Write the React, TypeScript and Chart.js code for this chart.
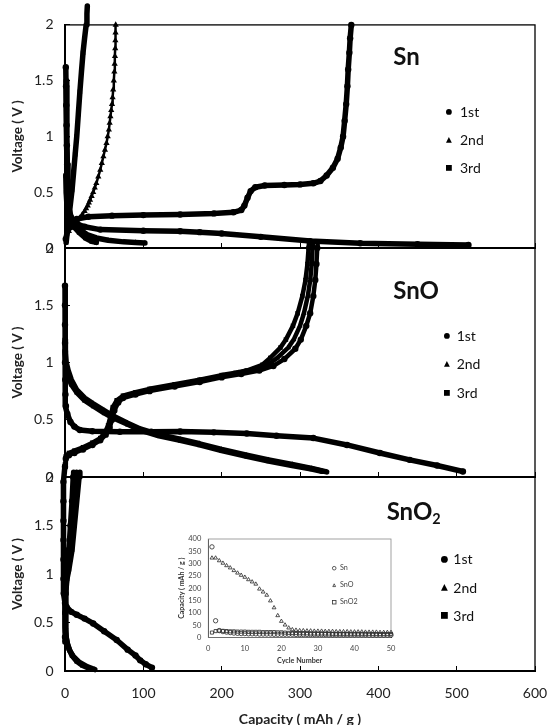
import React, { useEffect, useRef } from 'react';
import { Chart, registerables } from 'chart.js';

Chart.register(...registerables);
Chart.defaults.font.family = 'Lato, "Noto Sans", sans-serif';

type Pt = [number, number];

// ---------- axis ticks ----------
const capacityTicks = [0, 100, 200, 300, 400, 500, 600];
const voltageTicks = [0, 0.5, 1, 1.5, 2];
const cycleTicks = [0, 10, 20, 30, 40, 50];
const insetCapTicks = [0, 50, 100, 150, 200, 250, 300, 350, 400];

const cycleLabels = ['1st', '2nd', '3rd'];
const insetLabels = ['Sn', 'SnO', 'SnO2'];

// ---------- Sn panel (capacity mAh/g, voltage V) ----------
const snDis1: Pt[] = [[1, 1.62], [1.3, 1.45], [1.6, 1.28], [2, 1.1], [2.4, 0.92], [2.8, 0.75], [3.2, 0.6], [3.8, 0.47], [5, 0.36], [8, 0.27], [14, 0.22], [25, 0.19], [45, 0.165], [100, 0.155], [147, 0.15], [172, 0.142], [200, 0.13], [250, 0.1], [313, 0.062], [377, 0.042], [450, 0.033], [515, 0.028]];
const snCha1: Pt[] = [[1, 0.08], [3, 0.15], [8, 0.22], [15, 0.26], [30, 0.28], [60, 0.29], [100, 0.295], [147, 0.3], [190, 0.31], [215, 0.32], [225, 0.34], [229, 0.38], [233, 0.45], [237, 0.51], [243, 0.545], [255, 0.56], [280, 0.565], [300, 0.57], [317, 0.58], [326, 0.6], [334, 0.65], [342, 0.72], [348, 0.8], [352, 0.9], [355, 1.0], [357, 1.14], [359, 1.29], [360.5, 1.45], [361.5, 1.6], [363, 1.75], [364, 1.88], [365.5, 2.0]];
const snDis2: Pt[] = [[1.5, 1.5], [2, 1.25], [2.5, 1.0], [3, 0.75], [3.5, 0.55], [4.5, 0.4], [6, 0.31], [10, 0.24], [18, 0.17], [28, 0.12], [40, 0.09], [55, 0.07], [75, 0.055], [90, 0.05], [102, 0.045]];
const snCha2: Pt[] = [[1, 0.1], [5, 0.15], [9, 0.18], [12, 0.2], [16, 0.24], [19, 0.27], [22, 0.3], [25, 0.33], [27, 0.355], [29, 0.38], [30.5, 0.405], [32, 0.43], [34, 0.465], [36, 0.5], [38, 0.54], [40, 0.58], [42.5, 0.64], [45, 0.7], [47, 0.76], [49, 0.82], [51, 0.88], [53, 0.94], [54.5, 1.0], [56, 1.06], [57, 1.12], [58, 1.18], [59, 1.235], [60, 1.29], [60.8, 1.35], [61.5, 1.42], [62.3, 1.5], [63, 1.58], [63.4, 1.65], [63.8, 1.72], [64.1, 1.79], [64.3, 1.86], [64.5, 1.93], [64.7, 2.0]];
const snDis3: Pt[] = [[1, 0.65], [1.5, 0.5], [2.5, 0.38], [5, 0.28], [10, 0.2], [18, 0.14], [26, 0.09], [34, 0.06], [40, 0.05]];
const snCha3: Pt[] = [[1.5, 0.05], [3, 0.15], [5, 0.28], [7, 0.4], [9, 0.52], [11, 0.68], [13, 0.84], [15, 1.0], [17, 1.2], [19, 1.4], [21, 1.58], [23, 1.75], [25, 1.88], [27, 2.0], [28, 2.1], [28.5, 2.17]];

// ---------- SnO panel ----------
const snoDis1: Pt[] = [[0, 1.67], [0, 1.5], [0, 1.33], [0, 1.17], [0, 1.0], [0.3, 0.85], [0.6, 0.72], [1.2, 0.62], [3, 0.55], [7, 0.48], [12, 0.44], [19, 0.41], [35, 0.4], [70, 0.395], [110, 0.395], [147, 0.398], [190, 0.39], [232, 0.38], [270, 0.36], [317, 0.34], [360, 0.28], [402, 0.21], [440, 0.15], [475, 0.1], [508, 0.048]];
const snoCha1: Pt[] = [[0, 0.09], [1, 0.16], [5, 0.19], [12, 0.21], [23, 0.24], [35, 0.28], [45, 0.32], [52, 0.37], [57, 0.43], [60, 0.5], [63, 0.58], [68, 0.65], [74, 0.69], [90, 0.72], [108, 0.75], [140, 0.79], [172, 0.83], [200, 0.87], [225, 0.9], [248, 0.93], [266, 0.97], [280, 1.03], [294, 1.12], [301, 1.2], [308, 1.32], [313, 1.43], [317, 1.58], [319.5, 1.72], [321, 1.86], [322, 2.0], [322.5, 2.05]];
const snoDis2: Pt[] = [[0, 1.2], [0.5, 1.08], [1.5, 1.0], [4, 0.93], [8, 0.85], [15, 0.76], [25, 0.69], [36, 0.64], [50, 0.58], [62, 0.53], [80, 0.47], [96, 0.42], [120, 0.37], [147, 0.33], [172, 0.29], [200, 0.24], [232, 0.19], [260, 0.15], [290, 0.11], [315, 0.075], [334, 0.045]];
const snoCha2: Pt[] = [[0, 0.1], [1, 0.17], [5, 0.2], [12, 0.22], [23, 0.25], [35, 0.29], [45, 0.33], [52, 0.38], [56, 0.44], [59, 0.52], [62, 0.6], [67, 0.66], [74, 0.7], [90, 0.73], [108, 0.76], [140, 0.8], [172, 0.845], [200, 0.88], [222, 0.91], [240, 0.94], [259, 0.98], [271, 1.04], [285, 1.13], [292, 1.2], [300, 1.32], [305, 1.43], [310, 1.58], [313, 1.72], [315, 1.86], [316, 2.0], [316.5, 2.05]];
const snoDis3: Pt[] = [[0, 1.1], [0.5, 1.0], [1.5, 0.95], [4, 0.89], [8, 0.81], [15, 0.74], [25, 0.67], [36, 0.62], [50, 0.56], [62, 0.515], [80, 0.46], [96, 0.41], [120, 0.36], [147, 0.32], [172, 0.28], [200, 0.23], [232, 0.18], [260, 0.14], [290, 0.1], [315, 0.07], [328, 0.05]];
const snoCha3: Pt[] = [[0, 0.11], [1, 0.18], [5, 0.21], [12, 0.23], [23, 0.26], [35, 0.3], [45, 0.34], [51, 0.39], [55, 0.45], [58, 0.53], [61, 0.61], [66, 0.67], [74, 0.71], [90, 0.74], [108, 0.77], [140, 0.81], [172, 0.85], [200, 0.89], [218, 0.91], [232, 0.93], [252, 0.98], [262, 1.04], [275, 1.13], [282, 1.2], [291, 1.32], [297, 1.43], [303, 1.58], [307, 1.72], [309.5, 1.86], [311, 2.0], [311.5, 2.05]];

// ---------- SnO2 panel ----------
const sno2Dis1: Pt[] = [[0, 2.12], [-2, 1.95], [-2, 1.75], [-2, 1.55], [-2, 1.35], [-2, 1.15], [-2, 0.95], [-1.5, 0.8], [0, 0.7], [2, 0.66], [8, 0.61], [15, 0.58], [25, 0.54], [36, 0.49], [50, 0.41], [66, 0.32], [80, 0.22], [90, 0.16], [96, 0.11], [103, 0.07], [111, 0.035]];
const sno2Cha1: Pt[] = [[0, 0.35], [0.3, 0.6], [0.8, 0.8], [1.5, 0.95], [3, 1.05], [5, 1.25], [7, 1.5], [9, 1.75], [10.5, 2.0], [11, 2.05]];
const sno2Dis2: Pt[] = [[0, 1.12], [0, 0.95], [0, 0.78], [0.3, 0.6], [0.8, 0.45], [1.5, 0.35], [3, 0.28], [6, 0.21], [10.6, 0.15], [18, 0.09], [28, 0.045], [38, 0.015]];
const sno2Cha2: Pt[] = [[0, 0.32], [0.4, 0.6], [1, 0.8], [2, 0.95], [4, 1.05], [7, 1.25], [9.5, 1.5], [12, 1.75], [14, 2.0], [14.5, 2.05]];
const sno2Dis3: Pt[] = [[0, 1.05], [0, 0.88], [0, 0.7], [0.4, 0.52], [1, 0.4], [2.5, 0.3], [5, 0.23], [9, 0.16], [15, 0.1], [22, 0.06], [30, 0.03]];
const sno2Cha3: Pt[] = [[0, 0.3], [0.5, 0.6], [1.2, 0.8], [2.5, 0.95], [5, 1.05], [9, 1.25], [12, 1.5], [15, 1.75], [18, 2.0], [19, 2.05]];

// ---------- inset: capacity vs cycle number ----------
const cycles = [1, 2, 3, 4, 5, 6, 7, 8, 9, 10, 11, 12, 13, 14, 15, 16, 17, 18, 19, 20, 21, 22, 23, 24, 25, 26, 27, 28, 29, 30, 31, 32, 33, 34, 35, 36, 37, 38, 39, 40, 41, 42, 43, 44, 45, 46, 47, 48, 49, 50];
const capSn = [368, 68, 28, 24, 22, 20, 18, 17, 16, 16, 15, 15, 15, 14, 14, 14, 14, 13, 13, 13, 13, 13, 13, 12, 12, 12, 12, 12, 12, 12, 12, 12, 11, 11, 11, 11, 11, 11, 11, 11, 11, 11, 11, 10, 10, 10, 10, 10, 10, 10];
const capSnO = [323, 323, 312, 302, 292, 283, 272, 262, 253, 245, 235, 226, 217, 197, 185, 172, 149, 121, 89, 66, 51, 39, 32, 30, 28, 28, 27, 27, 26, 26, 26, 25, 25, 25, 24, 24, 24, 24, 23, 23, 23, 23, 22, 22, 22, 22, 21, 21, 21, 21];
const capSnO2 = [20, 26, 28, 27, 26, 25, 25, 24, 24, 24, 23, 23, 23, 23, 22, 22, 22, 22, 21, 21, 20, 19, 18, 18, 17, 17, 17, 16, 16, 16, 16, 16, 16, 15, 15, 15, 15, 15, 15, 15, 15, 15, 15, 15, 14, 14, 14, 14, 14, 14];

// ---------- layout ----------
const W = 550;
const H = 725;
const PLOT_R = 535;

type Marker = 'circle' | 'triangle' | 'rect';
interface Series { data: Pt[]; marker: Marker; line?: number; radius?: number }

const snSeries: Series[] = [
  { data: snDis1, marker: 'circle' }, { data: snCha1, marker: 'circle' },
  { data: snDis2, marker: 'triangle' }, { data: snCha2, marker: 'triangle', line: 2.5, radius: 3.6 },
  { data: snDis3, marker: 'rect' }, { data: snCha3, marker: 'rect' },
];
const snoSeries: Series[] = [
  { data: snoDis1, marker: 'circle' }, { data: snoCha1, marker: 'circle', line: 4.5 },
  { data: snoDis2, marker: 'triangle' }, { data: snoCha2, marker: 'triangle', line: 4.5 },
  { data: snoDis3, marker: 'rect' }, { data: snoCha3, marker: 'rect', line: 4.5 },
];
const sno2Series: Series[] = [
  { data: sno2Dis1, marker: 'circle' }, { data: sno2Cha1, marker: 'circle' },
  { data: sno2Dis2, marker: 'triangle' }, { data: sno2Cha2, marker: 'triangle' },
  { data: sno2Dis3, marker: 'rect' }, { data: sno2Cha3, marker: 'rect' },
];

function makeFrame(color: string, width: number) {
  return {
    id: 'frame',
    beforeDatasetsDraw(chart: any) {
      const { ctx, chartArea: a } = chart;
      ctx.save();
      ctx.strokeStyle = color;
      ctx.lineWidth = width;
      ctx.strokeRect(a.left, a.top, a.right - a.left, a.bottom - a.top);
      ctx.restore();
    },
  };
}

function toDataset(s: Series) {
  return {
    data: s.data.map(([x, y]) => ({ x, y })),
    showLine: true,
    borderColor: '#000',
    backgroundColor: '#000',
    borderWidth: s.line ?? 5.5,
    borderJoinStyle: 'round',
    borderCapStyle: 'round',
    pointStyle: s.marker,
    pointRadius: s.radius ?? 3.2,
    pointBorderWidth: 0,
    pointBackgroundColor: '#000',
    clip: false,
    tension: 0,
  };
}

function panelConfig(series: Series[], top: number, bottom: number, isBottom: boolean): any {
  const xH = isBottom ? H - bottom : 0;
  return {
    type: 'scatter',
    data: { datasets: series.map(toDataset) },
    options: {
      responsive: false,
      animation: false,
      events: [],
      layout: { padding: { left: 0, right: W - PLOT_R, top, bottom: H - bottom - xH } },
      plugins: { legend: { display: false }, tooltip: { enabled: false } },
      scales: {
        x: {
          type: 'linear',
          min: capacityTicks[0],
          max: capacityTicks[capacityTicks.length - 1],
          afterBuildTicks: (s: any) => { s.ticks = capacityTicks.map((v) => ({ value: v })); },
          afterFit: (s: any) => { s.height = xH; s.paddingLeft = 0; s.paddingRight = 0; },
          ticks: { display: isBottom, font: { size: 14 }, color: '#222', padding: 19.3, maxRotation: 0, autoSkip: false, callback: (v: any) => String(v) },
          grid: { drawOnChartArea: false, drawTicks: true, tickLength: -5, color: '#000', lineWidth: 1 },
          border: { display: true, color: '#000', width: 2 },
          title: { display: isBottom, text: 'Capacity ( mAh / g )', font: { size: 14, weight: 'bold', lineHeight: 0.85 }, color: '#222', padding: { top: 0, bottom: 0 } },
        },
        y: {
          type: 'linear',
          min: voltageTicks[0],
          max: voltageTicks[voltageTicks.length - 1],
          afterBuildTicks: (s: any) => { s.ticks = voltageTicks.map((v) => ({ value: v })); },
          afterFit: (s: any) => { s.width = 65; },
          ticks: { font: { size: 14 }, color: '#222', padding: 16.5, autoSkip: false, callback: (v: any) => String(v) },
          grid: { drawOnChartArea: false, drawTicks: true, tickLength: -5, color: '#000', lineWidth: 1 },
          border: { display: true, color: '#000', width: 2 },
          title: { display: true, text: 'Voltage ( V )', font: { size: 13.5, weight: 'bold', lineHeight: 1.2 }, color: '#222', padding: { top: 9.4, bottom: 0 } },
        },
      },
    },
    plugins: [makeFrame('#000', 1.3)],
  };
}

function insetDataset(label: string, values: number[], marker: Marker) {
  return {
    label,
    data: cycles.map((c, i) => ({ x: c, y: values[i] })),
    showLine: false,
    pointStyle: marker,
    pointRadius: 2.2,
    pointBorderWidth: 0.85,
    pointBorderColor: '#333',
    pointBackgroundColor: 'rgba(0,0,0,0)',
    borderColor: '#333',
    backgroundColor: 'rgba(0,0,0,0)',
    clip: false,
  };
}

function insetConfig(): any {
  return {
    type: 'scatter',
    data: {
      datasets: [
        insetDataset(insetLabels[0], capSn, 'circle'),
        insetDataset(insetLabels[1], capSnO, 'triangle'),
        insetDataset(insetLabels[2], capSnO2, 'rect'),
      ],
    },
    options: {
      responsive: false,
      animation: false,
      events: [],
      layout: { padding: { left: 170, right: W - 391, top: 539, bottom: H - 637.5 - 28 } },
      plugins: { legend: { display: false }, tooltip: { enabled: false } },
      scales: {
        x: {
          type: 'linear',
          min: cycleTicks[0],
          max: cycleTicks[cycleTicks.length - 1],
          afterBuildTicks: (s: any) => { s.ticks = cycleTicks.map((v) => ({ value: v })); },
          afterFit: (s: any) => { s.height = 28; s.paddingLeft = 0; s.paddingRight = 0; },
          ticks: { font: { size: 7.5 }, color: '#444', padding: 6.3, maxRotation: 0, autoSkip: false, callback: (v: any) => String(v) },
          grid: { drawOnChartArea: false, drawTicks: false },
          border: { display: true, color: '#000', width: 1 },
          title: { display: true, text: 'Cycle Number', font: { size: 7.2, weight: 'bold' }, color: '#333', padding: { top: 0, bottom: 0.6 } },
        },
        y: {
          type: 'linear',
          min: insetCapTicks[0],
          max: insetCapTicks[insetCapTicks.length - 1],
          afterBuildTicks: (s: any) => { s.ticks = insetCapTicks.map((v) => ({ value: v })); },
          afterFit: (s: any) => { s.width = 38.3; },
          ticks: { font: { size: 7.5 }, color: '#444', padding: 7, autoSkip: false, callback: (v: any) => String(v) },
          grid: { drawOnChartArea: false, drawTicks: false },
          border: { display: true, color: '#000', width: 1 },
          title: { display: true, text: 'Capacity ( mAh / g )', font: { size: 7, weight: 'bold' }, color: '#333', padding: { top: 7.5, bottom: 0 } },
        },
      },
    },
    plugins: [makeFrame('#8a8a8a', 0.8)],
  };
}

function MarkerIcon({ kind, x, y, size, hollow }: { kind: Marker; x: number; y: number; size: number; hollow?: boolean }) {
  const sw = hollow ? 0.8 : 0;
  const fill = hollow ? 'none' : '#000';
  const stroke = hollow ? '#333' : 'none';
  const s = size;
  let shape: React.ReactNode;
  if (kind === 'circle') shape = <circle cx={s / 2} cy={s / 2} r={s / 2 - sw / 2} fill={fill} stroke={stroke} strokeWidth={sw} />;
  else if (kind === 'triangle') shape = <polygon points={`${s / 2},${sw} ${s - sw},${s - sw} ${sw},${s - sw}`} fill={fill} stroke={stroke} strokeWidth={sw} />;
  else shape = <rect x={sw / 2} y={sw / 2} width={s - sw} height={s - sw} fill={fill} stroke={stroke} strokeWidth={sw} />;
  return (
    <svg width={s} height={s} style={{ position: 'absolute', left: x - s / 2, top: y - s / 2, overflow: 'visible' }}>
      {shape}
    </svg>
  );
}

const markerKinds: Marker[] = ['circle', 'triangle', 'rect'];

function PanelLegend({ mx, tx, ys, size }: { mx: number; tx: number; ys: number[]; size: number }) {
  return (
    <>
      {cycleLabels.map((lab, i) => (
        <React.Fragment key={lab}>
          <MarkerIcon kind={markerKinds[i]} x={mx} y={ys[i]} size={size} />
          <span style={{ position: 'absolute', left: tx, top: ys[i], transform: 'translateY(-50%)', fontFamily: 'Lato, sans-serif', fontSize: 14, lineHeight: 1, color: '#111', whiteSpace: 'nowrap' }}>{lab}</span>
        </React.Fragment>
      ))}
    </>
  );
}

const titleStyle: React.CSSProperties = { position: 'absolute', transform: 'translateY(-50%)', fontFamily: 'Lato, sans-serif', fontWeight: 700, fontSize: 24, lineHeight: 1, color: '#111', whiteSpace: 'nowrap' };

export default function App() {
  const c1 = useRef<HTMLCanvasElement>(null);
  const c2 = useRef<HTMLCanvasElement>(null);
  const c3 = useRef<HTMLCanvasElement>(null);
  const c4 = useRef<HTMLCanvasElement>(null);

  useEffect(() => {
    const charts = [
      new Chart(c1.current!, panelConfig(snSeries, 18.5, 248, false)),
      new Chart(c2.current!, panelConfig(snoSeries, 248, 477, false)),
      new Chart(c3.current!, panelConfig(sno2Series, 477, 671, true)),
      new Chart(c4.current!, insetConfig()),
    ];
    return () => charts.forEach((c) => c.destroy());
  }, []);

  const cv: React.CSSProperties = { position: 'absolute', left: 0, top: 0, width: W, height: H };

  return (
    <div style={{ position: 'absolute', left: 0, top: 0, width: W, height: H, background: '#fff', overflow: 'hidden' }}>
      <canvas ref={c1} width={W} height={H} style={cv} />
      <canvas ref={c2} width={W} height={H} style={cv} />
      <canvas ref={c3} width={W} height={H} style={cv} />
      <canvas ref={c4} width={W} height={H} style={cv} />

      <span style={{ ...titleStyle, left: 393.3, top: 56 }}>Sn</span>
      <span style={{ ...titleStyle, left: 393.3, top: 290 }}>SnO</span>
      <span style={{ ...titleStyle, left: 386.7, top: 513 }}>SnO<sub style={{ fontSize: '0.6em', verticalAlign: '-0.3em' }}>2</sub></span>

      <PanelLegend mx={449.3} tx={460} ys={[111.7, 140, 168.3]} size={5.8} />
      <PanelLegend mx={446.7} tx={456.7} ys={[336, 364.3, 392.7]} size={5.8} />
      <PanelLegend mx={444} tx={453.3} ys={[559.3, 587.7, 615.7]} size={6.8} />

      {insetLabels.map((lab, i) => (
        <React.Fragment key={lab}>
          <MarkerIcon kind={markerKinds[i]} x={334.3} y={[568.3, 585, 601.7][i]} size={4.4} hollow />
          <span style={{ position: 'absolute', left: 340, top: [568.3, 585, 601.7][i], transform: 'translateY(-50%)', fontFamily: 'Lato, sans-serif', fontSize: 7.2, lineHeight: 1, color: '#444', whiteSpace: 'nowrap' }}>{lab}</span>
        </React.Fragment>
      ))}
    </div>
  );
}
